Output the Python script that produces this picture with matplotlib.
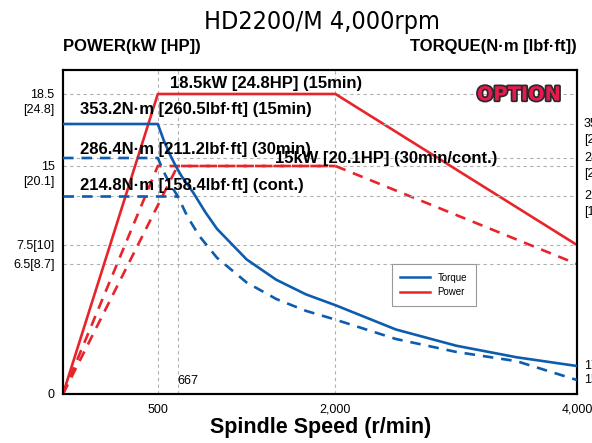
import numpy as np
import matplotlib.pyplot as plt
from matplotlib import patheffects as pe
from matplotlib.lines import Line2D

plt.rcParams['font.family'] = ['Liberation Sans', 'DejaVu Sans']

# speed axis ticks
speed_ticks = [500, 2000, 4000]
speed_labels = ['500', '2,000', '4,000']

# power curves (kW)
pw15_rpm = [0, 500, 2000, 4000]
pw15_kw = [0, 18.5, 18.5, 7.5]
pw30_rpm = [0, 500, 2000, 4000]
pw30_kw = [0, 15, 15, 6.5]
pwc_rpm = [0, 667, 2000]
pwc_kw = [0, 15, 15]

# torque curves (N·m)
tq15_rpm = [0, 500, 550, 600, 650, 700, 800, 900, 1000, 1250, 1500, 1750, 2000, 2500, 3000, 3500, 4000]
tq15_nm = [353.2, 353.2, 321.1, 294.4, 271.7, 252.4, 220.8, 196.3, 176.7, 141.3, 117.8, 100.9, 88.3,
           60.2, 41.4, 28.0, 17.9]
tq30_rpm = [0, 500, 550, 600, 667, 750, 850, 1000, 1250, 1500, 1750, 2000, 2500, 3000, 3500, 4000]
tq30_nm = [286.4, 286.4, 260.4, 238.7, 214.8, 191.0, 168.5, 143.2, 114.6, 95.5, 81.8, 71.6,
           49.2, 34.2, 23.5, 15.5]
tqc_rpm = [0, 667]
tqc_nm = [214.8, 214.8]

# axis labels
power_ticks = [18.5, 15, 7.5, 6.5, 0]
power_labels = ['18.5\n[24.8]', '15\n[20.1]', '7.5[10]', '6.5[8.7]', '0']
torque_ticks = [353.2, 286.4, 214.8, 17.9, 15.5]
torque_labels = ['353.2\n[260.5]', '286.4\n[211.2]', '214.8\n[158.4]', '17.9[13.2]', '15.5[11.4]']
speed_marks = [500, 667, 2000]

RED = '#e8242b'
BLUE = '#0e5cad'
GRID = '#b0b0b0'

# the chart uses stretched, piecewise axes
xk = ([0, 500, 2000, 4000], [0, 95, 273, 515])
pk = ([0, 6.5, 7.5, 15, 18.5, 19.7], [0, 130, 149, 228, 300, 324])
tk = ([0, 15.5, 17.9, 214.8, 286.4, 353.2, 459], [0, 14, 28, 198, 236, 270, 324])


def piecewise(k):
    a, b = np.array(k[0], float), np.array(k[1], float)
    return (lambda v: np.interp(v, a, b), lambda v: np.interp(v, b, a))


fig = plt.figure(figsize=(5.92, 4.43), dpi=100)
fig.subplots_adjust(left=63 / 592, right=577 / 592, bottom=49 / 443, top=373 / 443)
ax = fig.add_subplot(111)
ax.set_xscale('function', functions=piecewise(xk))
ax.set_yscale('function', functions=piecewise(pk))
ax.set_xlim(0, 4000)
ax.set_ylim(0, 19.7)

ax2 = ax.twinx()
ax2.set_yscale('function', functions=piecewise(tk))
ax2.set_ylim(0, 459)

gkw = dict(color=GRID, lw=0.8, ls=(0, (3, 3)), zorder=1)
for v in power_ticks[:-1]:
    ax.axhline(v, **gkw)
for v in torque_ticks[:3]:
    ax2.axhline(v, **gkw)
for v in speed_marks:
    ax.axvline(v, **gkw)

# power
ax.plot(pw15_rpm, pw15_kw, color=RED, lw=1.9, zorder=3)
ax.plot(pw30_rpm, pw30_kw, color=RED, lw=1.9, ls=(0, (4, 3)), zorder=3)
ax.plot(pwc_rpm, pwc_kw, color=RED, lw=1.9, ls=(0, (4, 3)), zorder=3)

# torque
ax2.plot(tq15_rpm, tq15_nm, color=BLUE, lw=1.9, zorder=3)
ax2.plot(tq30_rpm, tq30_nm, color=BLUE, lw=1.9, ls=(0, (4, 3)), zorder=3)
ax2.plot(tqc_rpm, tqc_nm, color=BLUE, lw=1.9, ls=(0, (4, 3)), zorder=3)

for a in (ax, ax2):
    a.tick_params(length=0)
    a.set_yticks([])
    for s in a.spines.values():
        s.set_linewidth(1.5)
        s.set_color('black')
ax.set_xticks(speed_ticks)
ax.set_xticklabels(speed_labels, fontsize=9)
ax.tick_params(axis='x', pad=7)

for v, lab in zip(power_ticks, power_labels):
    ax.annotate(lab, (0, v), xycoords=('axes fraction', 'data'), xytext=(-6, 3.5),
                textcoords='offset points', ha='right', va='top', fontsize=9,
                linespacing=1.35)
for v, lab in zip(torque_ticks, torque_labels):
    ax2.annotate(lab, (1, v), xycoords=('axes fraction', 'data'), xytext=(5, 4),
                 textcoords='offset points', ha='left', va='top', fontsize=9,
                 linespacing=1.35, annotation_clip=False)

ax.annotate('667', (667, 0), xytext=(0, 5), textcoords='offset points',
            ha='left', va='bottom', fontsize=9)

tkw = dict(transform=ax2.transAxes, fontsize=12, fontweight='bold', va='center', zorder=5)
ax2.text(0.208, 0.957, '18.5kW [24.8HP] (15min)', **tkw)
ax2.text(0.033, 0.877, '353.2N·m [260.5lbf·ft] (15min)', **tkw)
ax2.text(0.033, 0.756, '286.4N·m [211.2lbf·ft] (30min)', **tkw)
ax2.text(0.412, 0.728, '15kW [20.1HP] (30min/cont.)', **tkw)
ax2.text(0.033, 0.642, '214.8N·m [158.4lbf·ft] (cont.)', **tkw)

ax2.text(0.887, 0.923, 'OPTION', transform=ax2.transAxes, ha='center', va='center',
         fontsize=14, fontweight='bold', color='#e8194f', family='DejaVu Sans',
         path_effects=[pe.Stroke(linewidth=2.5, foreground='#2a2a2a'), pe.Normal()])

handles = [Line2D([], [], color=BLUE, lw=1.8), Line2D([], [], color=RED, lw=1.8)]
leg = ax2.legend(handles, ['Torque', 'Power'], loc='lower left', bbox_to_anchor=(0.63, 0.256),
                 fontsize=7, fancybox=False, edgecolor='#999999', framealpha=1,
                 handlelength=3, borderpad=0.9, labelspacing=0.5)
leg.get_frame().set_linewidth(0.8)

fig.text(322 / 592, 1 - 22 / 443, 'HD2200/M 4,000rpm', ha='center', va='center',
         fontsize=18, family='DejaVu Sans', fontstretch='condensed')
fig.text(63 / 592, 1 - 47 / 443, 'POWER(kW [HP])', ha='left', va='center',
         fontsize=12, fontweight='bold')
fig.text(577 / 592, 1 - 47 / 443, 'TORQUE(N·m [lbf·ft])', ha='right', va='center',
         fontsize=12, fontweight='bold')
fig.text(321 / 592, 1 - 428 / 443, 'Spindle Speed (r/min)', ha='center', va='center',
         fontsize=15.5, fontweight='bold')

fig.savefig('out.png', dpi=100)
